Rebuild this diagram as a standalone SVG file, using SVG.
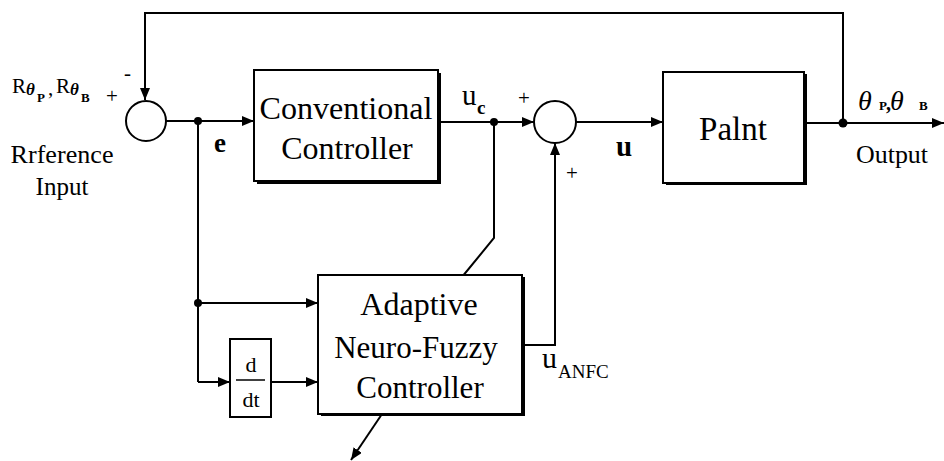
<svg xmlns="http://www.w3.org/2000/svg" width="944" height="461" viewBox="0 0 944 461" font-family="'Liberation Serif', 'Times New Roman', serif">
<style>
text{font-family:"Liberation Serif","Times New Roman",serif;fill:#000}
.ln{fill:none;stroke:#000;stroke-width:2}
.box{fill:#fff;stroke:#000;stroke-width:2}
.sh{fill:#000}
.arr{marker-end:url(#ah)}
.big{font-size:32px}
.mid{font-size:25px}
.lab{font-size:21px}
.sub{font-size:13px;font-weight:bold}
.th{font-style:italic;font-weight:bold;font-size:17px}
</style>
<defs>
<marker id="ah" markerUnits="userSpaceOnUse" markerWidth="12" markerHeight="10" refX="12" refY="5" orient="auto">
<path d="M0,0 L12,5 L0,10 z" fill="#000"/>
</marker>
</defs>
<rect width="944" height="461" fill="#fff"/>

<g id="connectors">
<polyline class="ln arr" points="843,124 843,13 145,13 145,100"/>
<line class="ln arr" x1="166" y1="121" x2="254" y2="121"/>
<polyline class="ln" points="198,121 198,382"/>
<line class="ln arr" x1="198" y1="303" x2="318" y2="303"/>
<line class="ln arr" x1="198" y1="382" x2="230" y2="382"/>
<line class="ln arr" x1="271" y1="382" x2="318" y2="382"/>
<line class="ln arr" x1="440" y1="122" x2="534" y2="122"/>
<polyline class="ln" points="494,122 494,238 462,277"/>
<polyline class="ln arr" points="522,345 555,345 555,143"/>
<line class="ln arr" x1="576" y1="122" x2="663" y2="122"/>
<line class="ln arr" x1="807" y1="123" x2="944" y2="123"/>
<line class="ln arr" x1="382" y1="414" x2="351" y2="460"/>
<circle cx="198" cy="121" r="4" fill="#000"/>
<circle cx="198" cy="303" r="4" fill="#000"/>
<circle cx="494" cy="122" r="4" fill="#000"/>
<circle cx="843" cy="123" r="4.5" fill="#000"/>
</g>

<g id="sum1">
<circle cx="146" cy="121" r="20" class="box"/>
<text x="106" y="103" class="lab">+</text>
<text x="124" y="80" class="lab">-</text>
</g>

<g id="sum2">
<circle cx="555" cy="122" r="21" class="box"/>
<text x="518" y="105" class="lab">+</text>
<text x="566" y="180" class="lab">+</text>
</g>

<g id="reference-input">
<text x="12" y="93" class="lab">R</text>
<text x="26" y="95" class="th">θ</text>
<text x="37" y="102" class="sub">P</text>
<text x="48" y="95" class="lab">,</text>
<text x="56" y="93" class="lab">R</text>
<text x="70" y="95" class="th">θ</text>
<text x="81" y="102" class="sub">B</text>
<text x="62" y="163" class="mid" text-anchor="middle" textLength="103" lengthAdjust="spacingAndGlyphs">Rrference</text>
<text x="62" y="195" class="mid" text-anchor="middle">Input</text>
</g>

<text x="214" y="152" style="font-size:27px;font-weight:bold">e</text>

<g id="conventional-controller">
<rect x="257" y="73" width="184" height="111" class="sh"/>
<rect x="254" y="70" width="184" height="111" class="box"/>
<text x="346" y="119" class="big" text-anchor="middle" textLength="173" lengthAdjust="spacingAndGlyphs">Conventional</text>
<text x="347" y="159" class="big" text-anchor="middle">Controller</text>
</g>

<g id="uc-label">
<text x="462" y="105" style="font-size:29px">u</text>
<text x="477" y="114" style="font-size:19px;font-weight:bold">c</text>
</g>

<text x="616" y="156" style="font-size:29px;font-weight:bold">u</text>

<g id="plant">
<rect x="666" y="74" width="141" height="111" class="sh"/>
<rect x="663" y="72" width="141" height="111" class="box"/>
<text x="733" y="140" style="font-size:33px" text-anchor="middle">Palnt</text>
</g>

<g id="output">
<text x="858" y="110" style="font-size:28px;font-style:italic">θ</text>
<text x="879" y="110" class="sub">P</text>
<text x="886" y="110" style="font-size:20px;font-weight:bold">,</text>
<text x="890" y="110" style="font-size:28px;font-style:italic">θ</text>
<text x="919" y="110" class="sub">B</text>
<text x="892" y="163" class="mid" text-anchor="middle" textLength="72" lengthAdjust="spacingAndGlyphs">Output</text>
</g>

<g id="ddt">
<rect x="230" y="339" width="41" height="78" class="box"/>
<line x1="236" y1="380" x2="265" y2="380" stroke="#000" stroke-width="1.5"/>
<text x="251" y="372" style="font-size:22px" text-anchor="middle">d</text>
<text x="251" y="407" style="font-size:22px" text-anchor="middle">dt</text>
</g>

<g id="anfc">
<rect x="321" y="277" width="204" height="139" class="sh"/>
<rect x="318" y="275" width="204" height="139" class="box"/>
<text x="419" y="315" style="font-size:32px" text-anchor="middle">Adaptive</text>
<text x="416" y="358" style="font-size:31px" text-anchor="middle">Neuro-Fuzzy</text>
<text x="420" y="398" style="font-size:31px" text-anchor="middle">Controller</text>
</g>

<g id="uanfc-label">
<text x="542" y="368" style="font-size:30px">u</text>
<text x="558" y="378" style="font-size:19px">ANFC</text>
</g>
</svg>
